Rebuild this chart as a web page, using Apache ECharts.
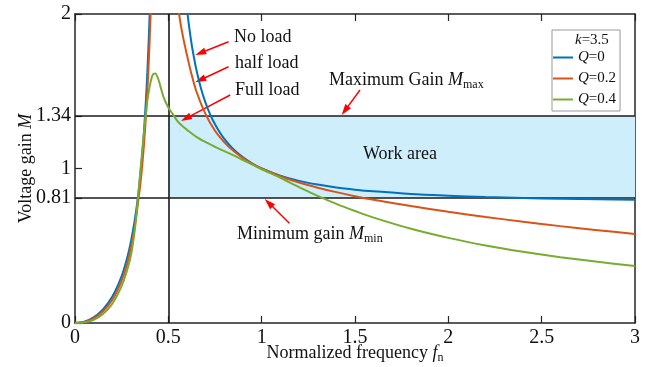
<!DOCTYPE html>
<html>
<head>
<meta charset="utf-8">
<script src="https://cdn.jsdelivr.net/npm/echarts@6/dist/echarts.min.js"></script>
<style>
  html, body { margin: 0; padding: 0; background: #fff; }
  #chart { width: 653px; height: 367px; }
</style>
</head>
<body>
<div id="chart"></div>
<script>
// LLC gain curves, k = 3.5, for three load levels (Q = 0, 0.2, 0.4)
const fnQ0 = [0, 0.05, 0.1, 0.15, 0.2, 0.25, 0.28, 0.3, 0.32, 0.34, 0.36, 0.37, 0.38, 0.385, 0.39, 0.40, 0.41, 0.42, 0.48,
  0.54, 0.56, 0.57, 0.58, 0.59, 0.60, 0.61, 0.62, 0.63, 0.65, 0.675, 0.7, 0.725, 0.75, 0.775, 0.8, 0.85, 0.9, 0.95, 1.0,
  1.1, 1.2, 1.3, 1.4, 1.5, 1.6, 1.8, 2.0, 2.2, 2.4, 2.6, 2.8, 3.0];
const gainQ0 = [0, 0.009, 0.037, 0.088, 0.171, 0.304, 0.424, 0.529, 0.665, 0.843, 1.088, 1.248, 1.443, 1.558, 1.687, 2.0, 2.416, 2.994, null,
  3.269, 2.669, 2.461, 2.292, 2.151, 2.032, 1.931, 1.844, 1.767, 1.641, 1.518, 1.423, 1.347, 1.286, 1.235, 1.192, 1.123, 1.072, 1.032, 1.0,
  0.953, 0.920, 0.896, 0.877, 0.863, 0.852, 0.835, 0.824, 0.815, 0.809, 0.804, 0.801, 0.798];

const fnQ02 = [0, 0.05, 0.1, 0.15, 0.2, 0.25, 0.28, 0.3, 0.32, 0.34, 0.35, 0.36, 0.37, 0.38, 0.39, 0.40, 0.41, 0.42, 0.46,
  0.50, 0.52, 0.54, 0.56, 0.58, 0.60, 0.62, 0.65, 0.70, 0.75, 0.80, 0.85, 0.90, 0.95, 1.0,
  1.1, 1.2, 1.3, 1.4, 1.5, 1.6, 1.8, 2.0, 2.2, 2.4, 2.6, 2.8, 3.0];
const gainQ02 = [0, 0.007, 0.03, 0.075, 0.15, 0.275, 0.385, 0.49, 0.62, 0.80, 0.897, 1.018, 1.164, 1.340, 1.558, 1.833, 2.193, 2.679, null,
  2.93, 2.46, 2.18, 1.98, 1.844, 1.733, 1.63, 1.50, 1.35, 1.244, 1.17, 1.113, 1.067, 1.03, 1.0,
  0.950, 0.909, 0.876, 0.847, 0.821, 0.798, 0.757, 0.720, 0.686, 0.656, 0.627, 0.601, 0.576];

const fnQ04 = [0, 0.05, 0.1, 0.15, 0.2, 0.25, 0.28, 0.3, 0.32, 0.335, 0.35, 0.36, 0.37, 0.38, 0.39, 0.40, 0.41, 0.42, 0.43, 0.44,
  0.45, 0.475, 0.5, 0.525, 0.55, 0.575, 0.6, 0.65, 0.7, 0.75, 0.8, 0.85, 0.9, 0.95, 1.0,
  1.1, 1.2, 1.3, 1.4, 1.5, 1.6, 1.8, 2.0, 2.2, 2.4, 2.6, 2.8, 3.0];
const gainQ04 = [0, 0.004, 0.02, 0.058, 0.125, 0.24, 0.345, 0.44, 0.60, 0.78, 0.98, 1.11, 1.24, 1.36, 1.46, 1.53, 1.585, 1.612, 1.615, 1.598,
  1.565, 1.46, 1.395, 1.35, 1.305, 1.275, 1.25, 1.205, 1.17, 1.14, 1.112, 1.085, 1.055, 1.025, 0.995,
  0.94, 0.88, 0.823, 0.771, 0.725, 0.682, 0.61, 0.551, 0.502, 0.461, 0.426, 0.396, 0.369];

const seriesNames = ['Q=0', 'Q=0.2', 'Q=0.4'];
const seriesColors = ['#0072BD', '#D95319', '#77AC30'];

// Gain window of the converter
const gainMax = 1.34;
const gainMin = 0.81;
const fnMinWork = 0.5;
const fnMaxWork = 3;

const yTickValues = [0, 0.81, 1, 1.34, 2];

// Pointer arrows: [from, to] in (fn, M)
const arrowNoLoad = [[0.8225, 1.8207], [0.6717, 1.7479]];
const arrowHalfLoad = [[0.8225, 1.6589], [0.6711, 1.5730]];
const arrowFullLoad = [[0.8316, 1.4757], [0.5941, 1.3243]];
const arrowMax = [[1.5267, 1.5081], [1.4460, 1.3748]];
const arrowMin = [[1.1487, 0.6453], [1.0374, 0.7780]];

const SERIF = '"Liberation Serif", "Times New Roman", Times, serif';
const INK = '#111';
const AXIS = '#262626';

function pairs(xs, ys) {
  return xs.map((x, i) => [x, ys[i] === null ? '-' : ys[i]]);
}

const chart = echarts.init(document.getElementById('chart'), null, { renderer: 'canvas' });

const curveSeries = [[fnQ0, gainQ0], [fnQ02, gainQ02], [fnQ04, gainQ04]].map((d, i) => ({
  name: seriesNames[i],
  type: 'line',
  data: pairs(d[0], d[1]),
  symbol: 'none',
  smooth: 0.3,
  connectNulls: false,
  clip: true,
  z: 5,
  lineStyle: { color: seriesColors[i], width: 2 },
  itemStyle: { color: seriesColors[i] },
  emphasis: { disabled: true }
}));

const subRich = {
  i: { fontFamily: SERIF, fontStyle: 'italic', fontSize: 18, color: INK, lineHeight: 22 },
  s: { fontFamily: SERIF, fontSize: 12, color: INK, lineHeight: 12, verticalAlign: 'bottom' }
};

const option = {
  animation: false,
  backgroundColor: '#fff',
  grid: { left: 75, right: 18, top: 14, bottom: 44, containLabel: false, outerBoundsMode: 'none' },
  xAxis: [
    {
      type: 'value', min: 0, max: 3, interval: 0.5, position: 'bottom',
      axisLine: { show: true, onZero: false, lineStyle: { color: AXIS, width: 1.5 } },
      axisTick: { show: true, inside: true, length: 7, lineStyle: { color: AXIS, width: 1.2 } },
      axisLabel: { margin: 5, fontFamily: SERIF, fontSize: 20, color: INK },
      splitLine: { show: false },
      name: 'Normalized frequency {i|f}{s|n}',
      nameLocation: 'middle', nameGap: 19, nameMoveOverlap: false,
      nameTextStyle: { fontFamily: SERIF, fontSize: 18, color: INK, lineHeight: 22, rich: subRich }
    },
    {
      type: 'value', min: 0, max: 3, interval: 0.5, position: 'top',
      axisLine: { show: true, onZero: false, lineStyle: { color: AXIS, width: 1.5 } },
      axisTick: { show: true, inside: true, length: 7, lineStyle: { color: AXIS, width: 1.2 } },
      axisLabel: { show: false },
      splitLine: { show: false }
    }
  ],
  yAxis: [
    {
      type: 'value', min: 0, max: 2, position: 'left',
      axisLine: { show: true, onZero: false, lineStyle: { color: AXIS, width: 1.5 } },
      axisTick: { show: true, inside: true, length: 7, customValues: yTickValues, lineStyle: { color: AXIS, width: 1.2 } },
      axisLabel: { margin: 4, customValues: yTickValues, fontFamily: SERIF, fontSize: 20, color: INK },
      splitLine: { show: false },
      name: 'Voltage gain {i|M}',
      nameLocation: 'middle', nameGap: 38, nameRotate: 90, nameMoveOverlap: false,
      nameTextStyle: { fontFamily: SERIF, fontSize: 18, color: INK, lineHeight: 22, rich: subRich }
    },
    {
      type: 'value', min: 0, max: 2, position: 'right',
      axisLine: { show: true, onZero: false, lineStyle: { color: AXIS, width: 1.5 } },
      axisTick: { show: false },
      axisLabel: { show: false },
      splitLine: { show: false }
    }
  ],
  legend: {
    left: 552, top: 30, orient: 'vertical',
    data: seriesNames.map((n, i) => ({ name: n, icon: 'rect', itemStyle: { color: seriesColors[i] } })),
    itemWidth: 20, itemHeight: 2, itemGap: 6, itemTextGap: 3,
    padding: [20, 4, 4, 1],
    borderColor: '#999', borderWidth: 1, backgroundColor: '#fff',
    selectedMode: false,
    formatter: name => '{i|Q}' + name.slice(1),
    textStyle: {
      fontFamily: SERIF, fontSize: 15, color: INK, lineHeight: 14,
      rich: { i: { fontFamily: SERIF, fontStyle: 'italic', fontSize: 15, color: INK, lineHeight: 14 } }
    }
  },
  series: [
    {
      name: 'work-area',
      type: 'line', data: [], z: 1, silent: true,
      markArea: {
        silent: true,
        itemStyle: { color: '#cdeefa' },
        data: [[{ coord: [fnMinWork, gainMin] }, { coord: [fnMaxWork, gainMax] }]]
      },
      markLine: {
        silent: true, symbol: ['none', 'none'], animation: false,
        label: { show: false },
        lineStyle: { color: '#1a1a1a', width: 1.6, type: 'solid' },
        data: [{ yAxis: gainMax }, { yAxis: gainMin }, { xAxis: fnMinWork }]
      }
    },
    ...curveSeries,
    {
      name: 'pointers',
      type: 'line', data: [], z: 8, silent: true,
      markLine: {
        silent: true, animation: false,
        symbol: ['none', 'triangle'], symbolSize: [7, 11],
        label: { show: false },
        lineStyle: { color: '#ff0000', width: 1.5, type: 'solid' },
        data: [arrowNoLoad, arrowHalfLoad, arrowFullLoad, arrowMax, arrowMin]
          .map(a => [{ coord: a[0] }, { coord: a[1] }])
      }
    }
  ],
  graphic: [
    { type: 'text', x: 234, y: 37, z: 100, style: { text: 'No load', font: '18px ' + SERIF, fill: INK, verticalAlign: 'middle' } },
    { type: 'text', x: 235, y: 63.5, z: 100, style: { text: 'half load', font: '18px ' + SERIF, fill: INK, verticalAlign: 'middle' } },
    { type: 'text', x: 235, y: 90, z: 100, style: { text: 'Full load', font: '18px ' + SERIF, fill: INK, verticalAlign: 'middle' } },
    {
      type: 'text', x: 329, y: 80, z: 100,
      style: {
        text: 'Maximum Gain {i|M}{s|max}', font: '18px ' + SERIF, fill: INK, verticalAlign: 'middle',
        lineHeight: 22, rich: subRich
      }
    },
    { type: 'text', x: 400, y: 154, z: 100, style: { text: 'Work area', font: '18px ' + SERIF, fill: INK, align: 'center', verticalAlign: 'middle' } },
    {
      type: 'text', x: 237, y: 234, z: 100,
      style: {
        text: 'Minimum gain {i|M}{s|min}', font: '18px ' + SERIF, fill: INK, verticalAlign: 'middle',
        lineHeight: 22, rich: subRich
      }
    },
    {
      type: 'text', x: 575, y: 40, z: 100,
      style: {
        text: '{i|k}=3.5', font: '15px ' + SERIF, fill: INK, verticalAlign: 'middle',
        rich: { i: { fontFamily: SERIF, fontStyle: 'italic', fontSize: 15, color: INK } }
      }
    }
  ]
};

chart.setOption(option);
</script>
</body>
</html>
